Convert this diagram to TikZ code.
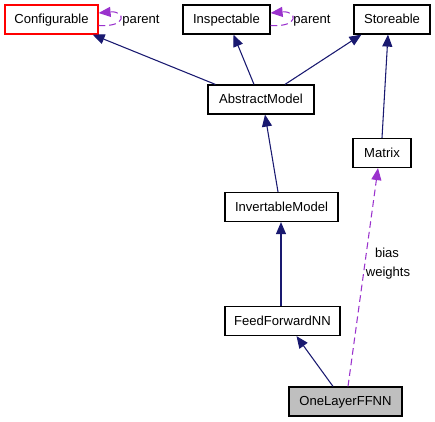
\documentclass[tikz,border=0pt]{standalone}
\usepackage{fontspec}
\setmainfont{Liberation Sans}
\usetikzlibrary{arrows.meta,calc}
\definecolor{edgeblue}{HTML}{191970}
\definecolor{edgepurple}{HTML}{9A32CD}
\definecolor{boxgray}{HTML}{BFBFBF}
\tikzset{
  cls/.style={draw=black, line width=0.9pt, rectangle, minimum height=29*0.75pt, inner sep=0pt, text height=7.5pt, text depth=1.5pt, font=\fontsize{9.8}{11.5}\selectfont, fill=white},
  inh/.style={draw=edgeblue, line width=0.8pt, -{Triangle[length=9pt,width=7.5pt]}, edgeblue},
  usage/.style={draw=edgepurple, line width=0.8pt, dash pattern=on 5pt off 3pt, -{Triangle[length=9pt,width=7.5pt]}, edgepurple},
  lbl/.style={font=\fontsize{9.8}{11.5}\selectfont, inner sep=0pt, text height=7.5pt, text depth=1.5pt}
}
\begin{document}
\begin{tikzpicture}[x=0.75pt, y=-0.75pt]
\useasboundingbox (0,0) rectangle (435,421);
\node[cls, draw=red, minimum width=93*0.75pt] (conf) at (51.5,19.5) {Configurable};
\node[cls, minimum width=87*0.75pt] (insp) at (226.5,19.5) {Inspectable};
\node[cls, minimum width=76*0.75pt] (stor) at (392,19.5) {Storeable};
\node[cls, minimum width=106*0.75pt] (am) at (261,99.5) {AbstractModel};
\node[cls, minimum width=58*0.75pt] (mat) at (382,153) {Matrix};
\node[cls, minimum width=113*0.75pt] (inv) at (281.5,207) {InvertableModel};
\node[cls, minimum width=115*0.75pt] (ffnn) at (282.5,321) {FeedForwardNN};
\node[cls, fill=boxgray, minimum width=113*0.75pt] (ol) at (345.5,401.5) {OneLayerFFNN};

\draw[inh] ($(am.north west)+(8,0)$) -- ($(conf.south east)+(-6,0)$);
\draw[inh] ($(am.north)+(-7,0)$) -- ($(insp.south)+(7,0)$);
\draw[inh] ($(am.north)+(24,0)$) -- ($(stor.south west)+(8,0)$);
\draw[inh] (mat.north) -- ($(stor.south)+(-4,0)$);
\draw[inh] ($(inv.north)+(-3.5,0)$) -- ($(am.south)+(4,0)$);
\draw[inh] ($(ffnn.north)+(-1.5,0)$) -- ($(inv.south)+(-0.5,0)$);
\draw[inh] ($(ol.north)+(-12.5,0)$) -- ($(ffnn.south)+(14,0)$);
\draw[usage] ($(ol.north)+(2.5,0)$) -- ($(mat.south)+(-4,0)$);
\node[lbl] (lb1) at (387,253) {bias};
\node[lbl] (lb2) at (388,272) {weights};

\draw[usage] ($(conf.east)+(0,6)$) .. controls ($(conf.east)+(29,8)$) and ($(conf.east)+(27,-9)$) .. ($(conf.east)+(0,-6.5)$);
\node[lbl] (p1) at (141,19.5) {parent};
\draw[usage] ($(insp.east)+(0,6)$) .. controls ($(insp.east)+(29,8)$) and ($(insp.east)+(27,-9)$) .. ($(insp.east)+(0,-6.5)$);
\node[lbl] (p2) at (312,19.5) {parent};
\end{tikzpicture}
\end{document}
